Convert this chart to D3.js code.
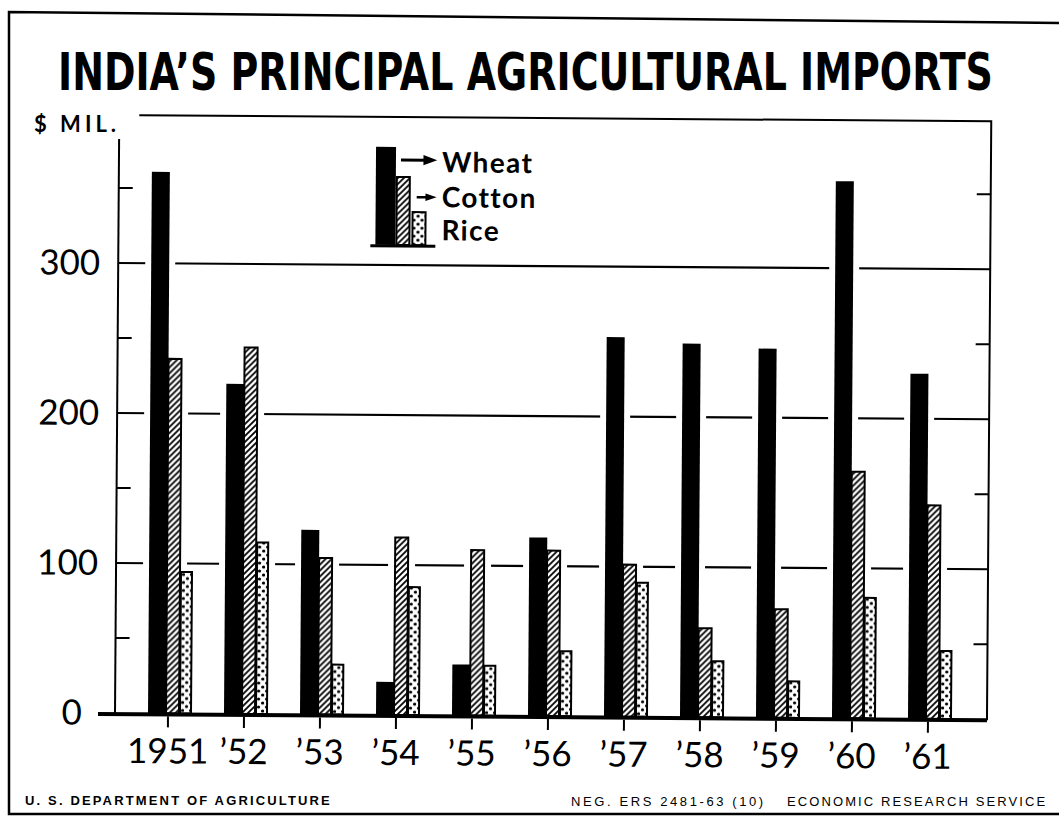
<!DOCTYPE html>
<html>
<head>
<meta charset="utf-8">
<script src="https://cdn.jsdelivr.net/npm/d3@7"></script>
<style>
body { margin: 0; background: #fff; }
svg { display: block; }
</style>
</head>
<body>
<div id="chart"></div>
<script>
var years = ["1951", "\u201952", "\u201953", "\u201954", "\u201955", "\u201956", "\u201957", "\u201958", "\u201959", "\u201960", "\u201961"];

// $ million
var wheat  = [361, 220, 123, 22, 34, 119, 253, 249, 246, 358, 230];
var cotton = [237, 245, 105, 119, 111, 111, 102, 60, 73, 165, 143];
var rice   = [95, 115, 34, 86, 34, 44, 90, 38, 25, 81, 46];

var seriesNames = ["Wheat", "Cotton", "Rice"];
var yTicks = [0, 100, 200, 300];
var yMinor = [50, 150, 250, 350];

var width = 1059, height = 817;
var labelFont = "Lato, 'DejaVu Sans', sans-serif";

var x = d3.scaleBand()
    .domain(years)
    .range([130, 966]);

var y = d3.scaleLinear()
    .domain([0, 400])
    .range([713, 113]);

// sub-bar offsets from the year tick and widths (wheat, cotton, rice)
var off = [-20, -3, 11], wid = [18, 15, 13];
var fills = ["#000", "url(#hatch)", "url(#dots)"];

var svg = d3.select("#chart").append("svg")
    .attr("width", width)
    .attr("height", height);

var defs = svg.append("defs");

var hatch = defs.append("pattern")
    .attr("id", "hatch")
    .attr("patternUnits", "userSpaceOnUse")
    .attr("width", 6)
    .attr("height", 6);
hatch.append("rect").attr("width", 6).attr("height", 6).attr("fill", "#fff");
hatch.append("path")
    .attr("d", "M0,6 L6,0 M-1.5,1.5 L1.5,-1.5 M4.5,7.5 L7.5,4.5")
    .attr("stroke", "#000")
    .attr("stroke-width", 1.8);

var dots = defs.append("pattern")
    .attr("id", "dots")
    .attr("patternUnits", "userSpaceOnUse")
    .attr("width", 8)
    .attr("height", 8);
dots.append("rect").attr("width", 8).attr("height", 8).attr("fill", "#fff");
dots.append("circle").attr("cx", 2.5).attr("cy", 2).attr("r", 1.6).attr("fill", "#000");
dots.append("circle").attr("cx", 6.5).attr("cy", 6).attr("r", 1.6).attr("fill", "#000");

// outer frame of the sheet
svg.append("path")
    .attr("d", "M1059,23 L9,12 L9,814 L1059,814")
    .attr("fill", "none")
    .attr("stroke", "#000")
    .attr("stroke-width", 2.5);

// title, squeezed to the width of the original
var title = svg.append("text")
    .attr("font-family", "'DejaVu Sans', sans-serif")
    .attr("font-weight", "bold")
    .attr("font-size", 42)
    .text("INDIA\u2019S PRINCIPAL AGRICULTURAL IMPORTS");
var tw = title.node().getComputedTextLength();
title.attr("transform", "translate(58,90) scale(" + (935 / tw) + ",1.24)");

svg.append("text")
    .attr("x", 34)
    .attr("y", 132)
    .attr("font-family", labelFont)
    .attr("font-weight", "bold")
    .attr("font-size", 22)
    .style("letter-spacing", "4px")
    .text("$ MIL.");

// the drawing is slightly tilted
var plot = svg.append("g")
    .attr("transform", "rotate(0.41,115,713)");

// frame
plot.append("path")
    .attr("d", "M135,115 L987,115 L987,714")
    .attr("fill", "none")
    .attr("stroke", "#000")
    .attr("stroke-width", 2);

plot.append("line")
    .attr("x1", 115).attr("x2", 115)
    .attr("y1", 139).attr("y2", y(0))
    .attr("stroke", "#000")
    .attr("stroke-width", 2);

plot.selectAll(".grid")
    .data(yTicks.slice(1))
    .enter().append("line")
    .attr("x1", 115).attr("x2", 987)
    .attr("y1", function(d){ return y(d); })
    .attr("y2", function(d){ return y(d); })
    .attr("stroke", "#000")
    .attr("stroke-width", 2.2);

plot.selectAll(".minorL")
    .data(yMinor)
    .enter().append("line")
    .attr("x1", 115).attr("x2", 129)
    .attr("y1", function(d){ return y(d); })
    .attr("y2", function(d){ return y(d); })
    .attr("stroke", "#000")
    .attr("stroke-width", 2);

plot.selectAll(".minorR")
    .data(yMinor)
    .enter().append("line")
    .attr("x1", 973).attr("x2", 987)
    .attr("y1", function(d){ return y(d); })
    .attr("y2", function(d){ return y(d); })
    .attr("stroke", "#000")
    .attr("stroke-width", 2);

plot.selectAll(".ylab")
    .data(yTicks)
    .enter().append("text")
    .attr("x", function(d){ return d === 0 ? 82 : 97; })
    .attr("y", function(d){ return y(d) + 12; })
    .attr("text-anchor", "end")
    .attr("font-family", labelFont)
    .attr("font-size", 35)
    .text(function(d){ return d; });

var table = years.map(function(yr, i){
    return { year: yr, values: [wheat[i], cotton[i], rice[i]] };
});

var cx = function(yr){ return x(yr) + x.bandwidth() / 2; };

var flat = d3.merge(table.map(function(d){
    return d.values.map(function(v, s){ return { year: d.year, v: v, s: s }; });
}));

// white gaps where the grid lines meet the bars
plot.selectAll(".halo")
    .data(flat)
    .enter().append("rect")
    .attr("x", function(d){ return cx(d.year) + off[d.s] - 6; })
    .attr("width", function(d){ return wid[d.s] + 12; })
    .attr("y", function(d){ return y(d.v); })
    .attr("height", function(d){ return y(0) - y(d.v); })
    .attr("fill", "#fff");

plot.selectAll(".bar")
    .data(flat)
    .enter().append("rect")
    .attr("x", function(d){ return cx(d.year) + off[d.s] + (d.s ? 1 : 0); })
    .attr("width", function(d){ return wid[d.s] - (d.s ? 2 : 0); })
    .attr("y", function(d){ return y(d.v) + (d.s ? 1 : 0); })
    .attr("height", function(d){ return y(0) - y(d.v) - (d.s ? 1 : 0); })
    .attr("fill", function(d){ return fills[d.s]; })
    .attr("stroke", function(d){ return d.s ? "#000" : "none"; })
    .attr("stroke-width", 2);

// base line and year ticks
plot.append("line")
    .attr("x1", 98).attr("x2", 987)
    .attr("y1", 714).attr("y2", 714)
    .attr("stroke", "#000")
    .attr("stroke-width", 4);

plot.selectAll(".xtick")
    .data(years)
    .enter().append("line")
    .attr("x1", cx).attr("x2", cx)
    .attr("y1", 716).attr("y2", 727)
    .attr("stroke", "#000")
    .attr("stroke-width", 2);

plot.selectAll(".xlab")
    .data(years)
    .enter().append("text")
    .attr("x", cx)
    .attr("y", 763)
    .attr("text-anchor", "middle")
    .attr("font-family", labelFont)
    .attr("font-size", 35)
    .text(function(d){ return d; });

// legend
var leg = plot.append("g");
var legX = [372, 392, 408], legW = [20, 15, 15], legTop = [145, 175, 210];

leg.selectAll("rect")
    .data(seriesNames)
    .enter().append("rect")
    .attr("x", function(d, i){ return legX[i] + (i ? 1 : 0); })
    .attr("width", function(d, i){ return legW[i] - (i ? 2 : 0); })
    .attr("y", function(d, i){ return legTop[i]; })
    .attr("height", function(d, i){ return 243 - legTop[i]; })
    .attr("fill", function(d, i){ return fills[i]; })
    .attr("stroke", function(d, i){ return i ? "#000" : "none"; })
    .attr("stroke-width", 2);

leg.append("line")
    .attr("x1", 367).attr("x2", 432)
    .attr("y1", 244).attr("y2", 244)
    .attr("stroke", "#000")
    .attr("stroke-width", 3);

leg.append("path")
    .attr("d", "M397,158 L422,158 M421,155 L429,158 L421,161 Z")
    .attr("stroke", "#000")
    .attr("stroke-width", 3);

leg.append("path")
    .attr("d", "M413,195 L424,195 M423,193 L429,195 L423,197 Z")
    .attr("stroke", "#000")
    .attr("stroke-width", 2.5);

var legY = [170, 205, 238];
leg.selectAll("text")
    .data(seriesNames)
    .enter().append("text")
    .attr("x", 438)
    .attr("y", function(d, i){ return legY[i]; })
    .attr("font-family", labelFont)
    .attr("font-weight", "bold")
    .attr("font-size", 28)
    .style("letter-spacing", "0.05em")
    .text(function(d){ return d; });

// credits
var foot = "'Liberation Sans', Arial, sans-serif";
svg.append("text")
    .attr("x", 25).attr("y", 805)
    .attr("font-family", foot)
    .attr("font-weight", "bold")
    .attr("font-size", 13)
    .style("letter-spacing", "2.15px")
    .text("U. S. DEPARTMENT OF AGRICULTURE");

svg.append("text")
    .attr("x", 571).attr("y", 806)
    .attr("font-family", foot)
    .attr("font-size", 13)
    .style("letter-spacing", "2.6px")
    .text("NEG. ERS 2481-63 (10)");

svg.append("text")
    .attr("x", 787).attr("y", 806)
    .attr("font-family", foot)
    .attr("font-size", 13)
    .style("letter-spacing", "2.1px")
    .text("ECONOMIC RESEARCH SERVICE");
</script>
</body>
</html>
